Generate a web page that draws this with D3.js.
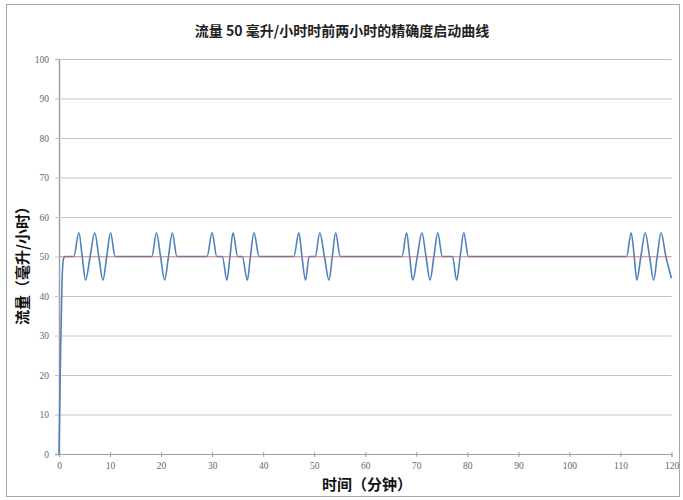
<!DOCTYPE html>
<html>
<head>
<meta charset="utf-8">
<script src="https://cdn.jsdelivr.net/npm/d3@7"></script>
<style>
  body { margin: 0; background: #fff; }
  .lbl { font-family: "Noto Sans CJK SC", "Liberation Sans", sans-serif; }
  .tick text { font-family: "Liberation Serif", serif; }
</style>
</head>
<body>
<svg id="chart" width="683" height="500"></svg>
<script>
// data
const xTicks = [0, 10, 20, 30, 40, 50, 60, 70, 80, 90, 100, 110, 120];
const yTicks = [0, 10, 20, 30, 40, 50, 60, 70, 80, 90, 100];
const targetFlow = 50;

// startup curve: time (min) / flow (ml/h)
const timeMin = [
  0, 0.3, 0.6, 0.9, 1.2, 2.9,
  3.9, 4.55, 5.2, 6.1, 7.0, 7.8, 8.6, 9.35, 10.1, 11.0,
  18.2, 19.1, 19.9, 20.7, 21.45, 22.2, 23.1,
  29.0, 30.0, 30.9, 32.0, 32.9, 33.5, 34.1, 35.0, 35.9, 36.9, 37.5, 38.2, 39.2,
  46.0, 47.0, 47.6, 48.3, 49.0, 50.2, 51.1, 52.0, 52.9, 53.55, 54.2, 55.1,
  67.2, 68.1, 68.7, 69.3, 70.2, 71.1, 71.9, 72.7, 73.45, 74.2, 75.1, 77.1, 77.9, 78.6, 79.3, 80.2,
  111.2, 112.1, 112.7, 113.2, 114.0, 114.85, 115.7, 116.5, 117.2, 117.95, 118.9, 120
];
const flowMlh = [
  0, 25, 44, 49.5, 50, 50,
  56, 50, 44, 50, 56, 50, 44, 50, 56, 50,
  50, 56, 50, 44, 50, 56, 50,
  50, 56, 50, 50, 44, 50, 56, 50, 50, 44, 50, 56, 50,
  50, 56, 50, 44, 50, 50, 56, 50, 44, 50, 56, 50,
  50, 56, 50, 44, 50, 56, 50, 44, 50, 56, 50, 50, 44, 50, 56, 50,
  50, 56, 50, 44, 50, 56, 50, 44, 50, 56, 50, 44.5
];

const svg = d3.select("#chart");

// outer frame
svg.append("rect")
  .attr("x", 6.5).attr("y", 4.5)
  .attr("width", 673).attr("height", 492)
  .attr("fill", "#fff")
  .attr("stroke", "#a6a6a6");

const plotLeft = 59, plotRight = 671.5, plotTop = 59, plotBottom = 454;
const plotW = plotRight - plotLeft;

const x = d3.scaleLinear().domain([0, 120]).range([plotLeft, plotRight]);
const y = d3.scaleLinear().domain([0, 100]).range([plotBottom, plotTop]);

// y axis + grid
const yAxis = svg.append("g")
  .attr("transform", `translate(${plotLeft},0)`)
  .call(d3.axisLeft(y).tickValues(yTicks).tickSize(4).tickPadding(6));
yAxis.select(".domain").attr("stroke", "#a0a0a0").attr("stroke-width", 1.5);
yAxis.selectAll(".tick line")
  .attr("x1", plotW).attr("x2", -4)
  .attr("stroke", d => d === 0 ? "#a0a0a0" : "#c4c4c4");
yAxis.selectAll(".tick text")
  .attr("font-size", 9.5)
  .attr("fill", "#666");

// x axis
const xAxis = svg.append("g")
  .attr("transform", `translate(0,${plotBottom})`)
  .call(d3.axisBottom(x).tickValues(xTicks).tickSize(3).tickPadding(5));
xAxis.select(".domain").attr("stroke", "#a0a0a0");
xAxis.selectAll(".tick line").attr("y1", -2).attr("stroke", "#a0a0a0");
xAxis.selectAll(".tick text")
  .attr("font-size", 9.5)
  .attr("fill", "#666");

// startup curve
const pts = timeMin.map((t, i) => [t, flowMlh[i]]);
const line = d3.line()
  .x(d => x(d[0]))
  .y(d => y(d[1]))
  .curve(d3.curveMonotoneX);

svg.append("path")
  .datum(pts)
  .attr("d", line)
  .attr("fill", "none")
  .attr("stroke", "#4f81bd")
  .attr("stroke-width", 1.6);

// target line at 50
svg.append("line")
  .attr("x1", x(0)).attr("x2", x(120))
  .attr("y1", y(targetFlow)).attr("y2", y(targetFlow))
  .attr("stroke", "#e05a5a")
  .attr("stroke-opacity", 0.6)
  .attr("stroke-width", 0.9);

// titles
svg.append("text").attr("class", "lbl")
  .attr("x", 342).attr("y", 36)
  .attr("text-anchor", "middle")
  .attr("font-size", 14)
  .attr("font-weight", "bold")
  .attr("fill", "#222")
  .text("流量 50 毫升/小时时前两小时的精确度启动曲线");

svg.append("text").attr("class", "lbl")
  .attr("x", 367).attr("y", 490)
  .attr("text-anchor", "middle")
  .attr("font-size", 15)
  .attr("font-weight", "bold")
  .attr("fill", "#111")
  .text("时间（分钟）");

svg.append("text").attr("class", "lbl")
  .attr("transform", "translate(28,262) rotate(-90)")
  .attr("text-anchor", "middle")
  .attr("font-size", 15)
  .attr("font-weight", "bold")
  .attr("fill", "#111")
  .text("流量（毫升/小时）");
</script>
</body>
</html>
